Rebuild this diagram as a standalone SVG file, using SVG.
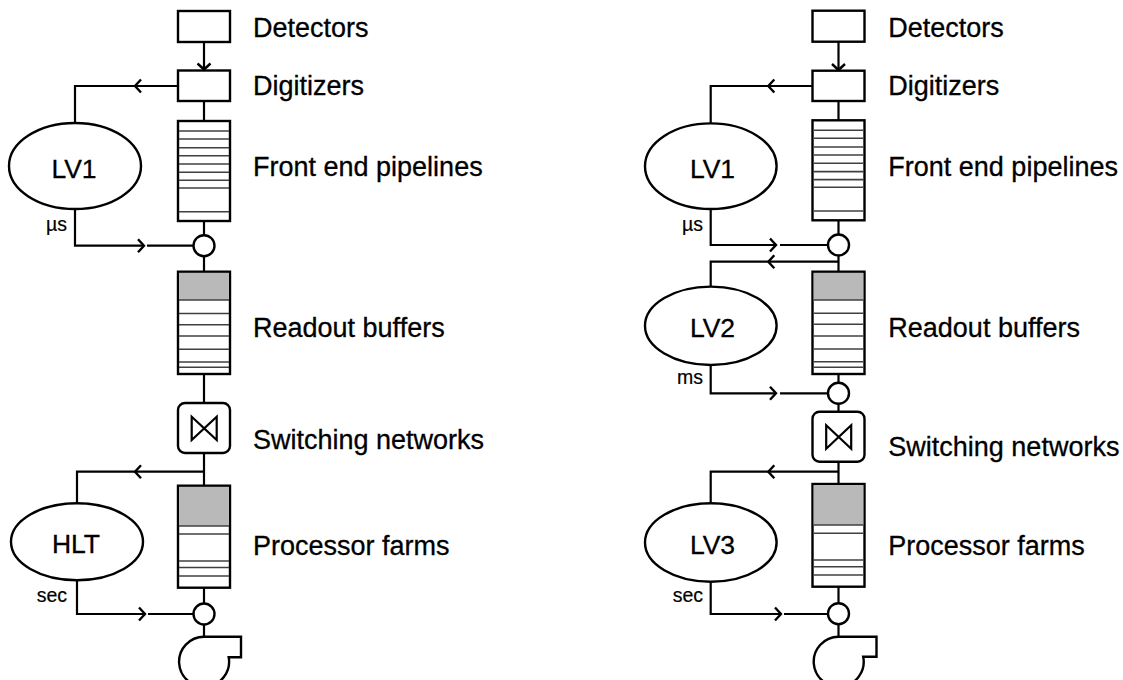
<svg xmlns="http://www.w3.org/2000/svg" width="1123" height="680" viewBox="0 0 1123 680">
<style>
.box{fill:#fff;stroke:#000;stroke-width:2.4}
.gray{fill:#b9b9b9;stroke:none}
.ln{fill:none;stroke:#000;stroke-width:2.2}
.in{stroke:#404040;stroke-width:1.6}
.ell{fill:#fff;stroke:#000;stroke-width:2.4}
.lbl{font-family:"Liberation Sans",Arial,Helvetica,sans-serif;font-size:27px;fill:#000;stroke:#000;stroke-width:0.3}
.en{font-family:"Liberation Sans",Arial,Helvetica,sans-serif;font-size:26.5px;fill:#000;stroke:#000;stroke-width:0.3;text-anchor:middle}
.sm{font-family:"Liberation Sans",Arial,Helvetica,sans-serif;font-size:19.5px;fill:#000;stroke:#000;stroke-width:0.2;text-anchor:end}
</style>
<defs>
<marker id="chev" markerUnits="userSpaceOnUse" viewBox="-9 -9 11 18" markerWidth="11" markerHeight="18" refX="0" refY="0" orient="auto">
<path d="M-6,-6.5 L0,0 L-6,6.5" fill="none" stroke="#000" stroke-width="2.4"/>
</marker>
</defs>

<!-- ===== LEFT DIAGRAM ===== -->
<g id="connectors-left" class="ln">
<path d="M204 42 V69.5" marker-end="url(#chev)"/>
<path d="M204 101 V121"/>
<path d="M178 86 H135" marker-end="url(#chev)"/>
<path d="M135 86 H75 V123"/>
<path d="M75 209 V245.7 H144" marker-end="url(#chev)"/>
<path d="M147 245.7 H193.5"/>
<path d="M204 221 V235.2"/>
<path d="M204 256.2 V271.7"/>
<path d="M204 374 V403"/>
<path d="M204 453 V485.7"/>
<path d="M204 471.7 H135" marker-end="url(#chev)"/>
<path d="M135 471.7 H77 V503.3"/>
<path d="M77 580 V614 H145" marker-end="url(#chev)"/>
<path d="M148 614 H193.5"/>
<path d="M204 587.7 V603.5"/>
<path d="M204 624.5 V636.7"/>
</g>

<g id="L-detectors">
<rect class="box" x="178" y="11" width="52" height="31"/>
<text class="lbl" x="253" y="37.3">Detectors</text>
</g>
<g id="L-digitizers">
<rect class="box" x="178" y="70.5" width="52" height="30.5"/>
<text class="lbl" x="253" y="94.5">Digitizers</text>
</g>
<g id="L-pipelines">
<rect class="box" x="178" y="121" width="52" height="100"/>
<g class="in">
<line x1="179" x2="229" y1="131" y2="131"/>
<line x1="179" x2="229" y1="139" y2="139"/>
<line x1="179" x2="229" y1="147.7" y2="147.7"/>
<line x1="179" x2="229" y1="155.7" y2="155.7"/>
<line x1="179" x2="229" y1="164" y2="164"/>
<line x1="179" x2="229" y1="172.3" y2="172.3"/>
<line x1="179" x2="229" y1="180.3" y2="180.3"/>
<line x1="179" x2="229" y1="188" y2="188"/>
<line x1="179" x2="229" y1="211.7" y2="211.7"/>
</g>
<text class="lbl" x="253" y="176">Front end pipelines</text>
</g>
<g id="L-lv1">
<ellipse class="ell" cx="75" cy="166" rx="66" ry="43"/>
<text class="en" x="74" y="177.5">LV1</text>
<text class="sm" x="67" y="231">µs</text>
</g>
<g id="L-merge1">
<circle class="ell" cx="204" cy="245.7" r="10.5"/>
</g>
<g id="L-readout">
<rect class="box" x="178" y="271.7" width="52" height="102.3"/>
<rect class="gray" x="179.2" y="272.9" width="49.6" height="27.1"/>
<g class="in">
<line x1="179" x2="229" y1="300" y2="300"/>
<line x1="179" x2="229" y1="313.5" y2="313.5"/>
<line x1="179" x2="229" y1="324.7" y2="324.7"/>
<line x1="179" x2="229" y1="336" y2="336"/>
<line x1="179" x2="229" y1="349.3" y2="349.3"/>
<line x1="179" x2="229" y1="362" y2="362"/>
<line x1="179" x2="229" y1="367.3" y2="367.3"/>
</g>
<text class="lbl" x="253" y="336.7">Readout buffers</text>
</g>
<g id="L-switch">
<rect class="box" x="178" y="403" width="52" height="50" rx="7"/>
<path class="ln" d="M191.7 416.7 V440 L216.7 416.7 V440 Z" stroke-linejoin="miter"/>
<text class="lbl" x="253" y="449.3">Switching networks</text>
</g>
<g id="L-hlt">
<ellipse class="ell" cx="77" cy="541.7" rx="66" ry="38.5"/>
<text class="en" x="76" y="553.2">HLT</text>
<text class="sm" x="67" y="601.7">sec</text>
</g>
<g id="L-processor">
<rect class="box" x="178" y="485.7" width="52" height="102"/>
<rect class="gray" x="179.2" y="486.9" width="49.6" height="39.1"/>
<g class="in">
<line x1="179" x2="229" y1="526" y2="526"/>
<line x1="179" x2="229" y1="534" y2="534"/>
<line x1="179" x2="229" y1="561" y2="561"/>
<line x1="179" x2="229" y1="567.5" y2="567.5"/>
<line x1="179" x2="229" y1="576" y2="576"/>
</g>
<text class="lbl" x="253" y="555">Processor farms</text>
</g>
<g id="L-merge2">
<circle class="ell" cx="204" cy="614" r="10.5"/>
</g>
<g id="L-pump">
<path class="ell" d="M241 636.7 H204 A25 25 0 1 0 228.7 657.3 H241 Z"/>
</g>

<!-- ===== RIGHT DIAGRAM ===== -->
<g id="connectors-right" class="ln">
<path d="M838.5 41.7 V70" marker-end="url(#chev)"/>
<path d="M838.5 101 V120.3"/>
<path d="M812.5 86 H768.3" marker-end="url(#chev)"/>
<path d="M768.3 86 H710.7 V123.3"/>
<path d="M710.7 209 V245 H776" marker-end="url(#chev)"/>
<path d="M780 245 H828"/>
<path d="M838.5 220.3 V234.5"/>
<path d="M838.5 255.5 V271.7"/>
<path d="M838.5 261.7 H768.3" marker-end="url(#chev)"/>
<path d="M768.3 261.7 H710.7 V286.7"/>
<path d="M710.7 365 V393.3 H776" marker-end="url(#chev)"/>
<path d="M780 393.3 H828"/>
<path d="M838.5 374 V382.8"/>
<path d="M838.5 403.8 V411.7"/>
<path d="M838.5 461.7 V484"/>
<path d="M838.5 471.7 H768.3" marker-end="url(#chev)"/>
<path d="M768.3 471.7 H710.7 V503.3"/>
<path d="M710.7 581.7 V614 H781" marker-end="url(#chev)"/>
<path d="M784 614 H828"/>
<path d="M838.5 586.7 V603.2"/>
<path d="M838.5 624.2 V636.7"/>
</g>

<g id="R-detectors">
<rect class="box" x="812.5" y="10.7" width="52" height="31"/>
<text class="lbl" x="888.3" y="37">Detectors</text>
</g>
<g id="R-digitizers">
<rect class="box" x="812.5" y="70.7" width="52" height="30.3"/>
<text class="lbl" x="888.3" y="94.8">Digitizers</text>
</g>
<g id="R-pipelines">
<rect class="box" x="812.5" y="120.3" width="52" height="100"/>
<g class="in">
<line x1="813.5" x2="863.5" y1="130.3" y2="130.3"/>
<line x1="813.5" x2="863.5" y1="138.3" y2="138.3"/>
<line x1="813.5" x2="863.5" y1="147" y2="147"/>
<line x1="813.5" x2="863.5" y1="155" y2="155"/>
<line x1="813.5" x2="863.5" y1="163.3" y2="163.3"/>
<line x1="813.5" x2="863.5" y1="171.6" y2="171.6"/>
<line x1="813.5" x2="863.5" y1="179.6" y2="179.6"/>
<line x1="813.5" x2="863.5" y1="187.3" y2="187.3"/>
<line x1="813.5" x2="863.5" y1="211" y2="211"/>
</g>
<text class="lbl" x="888.3" y="176.3">Front end pipelines</text>
</g>
<g id="R-lv1">
<ellipse class="ell" cx="710.8" cy="166.2" rx="65.8" ry="42.8"/>
<text class="en" x="712.5" y="177.7">LV1</text>
<text class="sm" x="703" y="231">µs</text>
</g>
<g id="R-merge1">
<circle class="ell" cx="838.5" cy="245" r="10.5"/>
</g>
<g id="R-lv2">
<ellipse class="ell" cx="710.8" cy="325.8" rx="65.8" ry="39.2"/>
<text class="en" x="712.5" y="337.3">LV2</text>
<text class="sm" x="703" y="384">ms</text>
</g>
<g id="R-readout">
<rect class="box" x="812.5" y="271.7" width="52" height="102.3"/>
<rect class="gray" x="813.7" y="272.9" width="49.6" height="27.1"/>
<g class="in">
<line x1="813.5" x2="863.5" y1="300" y2="300"/>
<line x1="813.5" x2="863.5" y1="313.3" y2="313.3"/>
<line x1="813.5" x2="863.5" y1="324.3" y2="324.3"/>
<line x1="813.5" x2="863.5" y1="336" y2="336"/>
<line x1="813.5" x2="863.5" y1="349" y2="349"/>
<line x1="813.5" x2="863.5" y1="361.7" y2="361.7"/>
<line x1="813.5" x2="863.5" y1="367.3" y2="367.3"/>
</g>
<text class="lbl" x="888.3" y="336.7">Readout buffers</text>
</g>
<g id="R-merge2">
<circle class="ell" cx="838.5" cy="393.3" r="10.5"/>
</g>
<g id="R-switch">
<rect class="box" x="812.5" y="411.7" width="52" height="50" rx="7"/>
<path class="ln" d="M826.2 425.2 V448.7 L851.2 425.2 V448.7 Z" stroke-linejoin="miter"/>
<text class="lbl" x="888.3" y="455.5">Switching networks</text>
</g>
<g id="R-lv3">
<ellipse class="ell" cx="710.8" cy="542.5" rx="65.8" ry="39.2"/>
<text class="en" x="712.5" y="554">LV3</text>
<text class="sm" x="703" y="601.7">sec</text>
</g>
<g id="R-processor">
<rect class="box" x="812.5" y="484" width="52" height="102.7"/>
<rect class="gray" x="813.7" y="485.2" width="49.6" height="39.8"/>
<g class="in">
<line x1="813.5" x2="863.5" y1="525" y2="525"/>
<line x1="813.5" x2="863.5" y1="533.3" y2="533.3"/>
<line x1="813.5" x2="863.5" y1="560" y2="560"/>
<line x1="813.5" x2="863.5" y1="566.7" y2="566.7"/>
<line x1="813.5" x2="863.5" y1="575" y2="575"/>
</g>
<text class="lbl" x="888.3" y="555">Processor farms</text>
</g>
<g id="R-merge3">
<circle class="ell" cx="838.5" cy="613.7" r="10.5"/>
</g>
<g id="R-pump">
<path class="ell" d="M876.5 636.7 H838.5 A25 25 0 1 0 863.2 656.7 H876.5 Z"/>
</g>
</svg>
